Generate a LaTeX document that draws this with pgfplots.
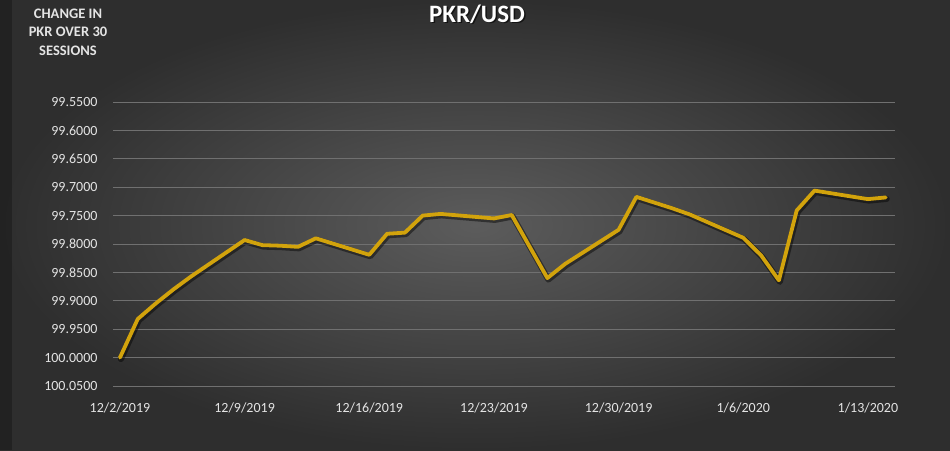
\documentclass[border=0pt]{standalone}
\usepackage{pgfplots}
\pgfplotsset{compat=1.18}
\usepackage{fontspec}
\setmainfont{Carlito}
\definecolor{bgin}{RGB}{92,92,92}
\definecolor{bgout}{RGB}{46,46,46}
\definecolor{gold}{RGB}{210,163,12}
\definecolor{gridc}{RGB}{112,112,112}
\definecolor{lbl}{RGB}{228,228,228}
\pgfplotstableread{
day val
0 100.000
1 99.932
2 99.905
3 99.880
4 99.857
7 99.793
8 99.802
9 99.803
10 99.805
11 99.790
14 99.819
15 99.782
16 99.780
17 99.750
18 99.747
21 99.755
22 99.749
24 99.860
25 99.835
28 99.775
29 99.717
30 99.727
31 99.737
32 99.748
35 99.789
36 99.820
37 99.864
38 99.741
39 99.706
42 99.721
43 99.718
}\pkr
\begin{document}
\begin{tikzpicture}[x=1pt,y=1pt]
\shade[inner color=bgin, outer color=bgout] (0,0) rectangle (950,450);
\fill[black, opacity=0.25] (0,0) rectangle (12,450);
\useasboundingbox (0,0) rectangle (950,450);
\begin{axis}[
  at={(113pt,64pt)}, anchor=south west,
  scale only axis, width=782pt, height=284pt,
  xmin=-0.39, xmax=43.52, ymin=99.55, ymax=100.05,
  y dir=reverse,
  axis line style={draw=none},
  major tick length=0pt,
  ymajorgrids, grid style={gridc, line width=0.9pt},
  ytick={99.55,99.60,99.65,99.70,99.75,99.80,99.85,99.90,99.95,100.00,100.05},
  yticklabel style={/pgf/number format/.cd, fixed, fixed zerofill, precision=4, /tikz/.cd, font=\fontsize{14}{16}\selectfont, text=lbl, xshift=-12pt},
  /pgf/number format/assume math mode=true,
  xtick={0,7,14,21,28,35,42},
  xticklabels={12/2/2019,12/9/2019,12/16/2019,12/23/2019,12/30/2019,1/6/2020,1/13/2020},
  xticklabel style={font=\fontsize{14}{16}\selectfont, text=lbl, yshift=-13pt},
  clip=false,
]
\addplot[black, opacity=0.45, line width=6pt, line join=round, line cap=round, transform canvas={xshift=1pt,yshift=-1.5pt}] table[x=day,y=val]{\pkr};
\addplot[gold, line width=3.8pt, line join=round, line cap=round] table[x=day,y=val]{\pkr};
\end{axis}
\node[text=black, opacity=0.6, font=\fontsize{25}{27}\bfseries\selectfont] at (478.5,434.5) {PKR/USD};
\node[text=white, font=\fontsize{25}{27}\bfseries\selectfont] at (477,436) {PKR/USD};
\node[text=lbl, align=center, font=\fontsize{14.5}{18.5}\bfseries\selectfont] at (68,418) {CHANGE IN\\PKR OVER 30\\SESSIONS};
\end{tikzpicture}
\end{document}
